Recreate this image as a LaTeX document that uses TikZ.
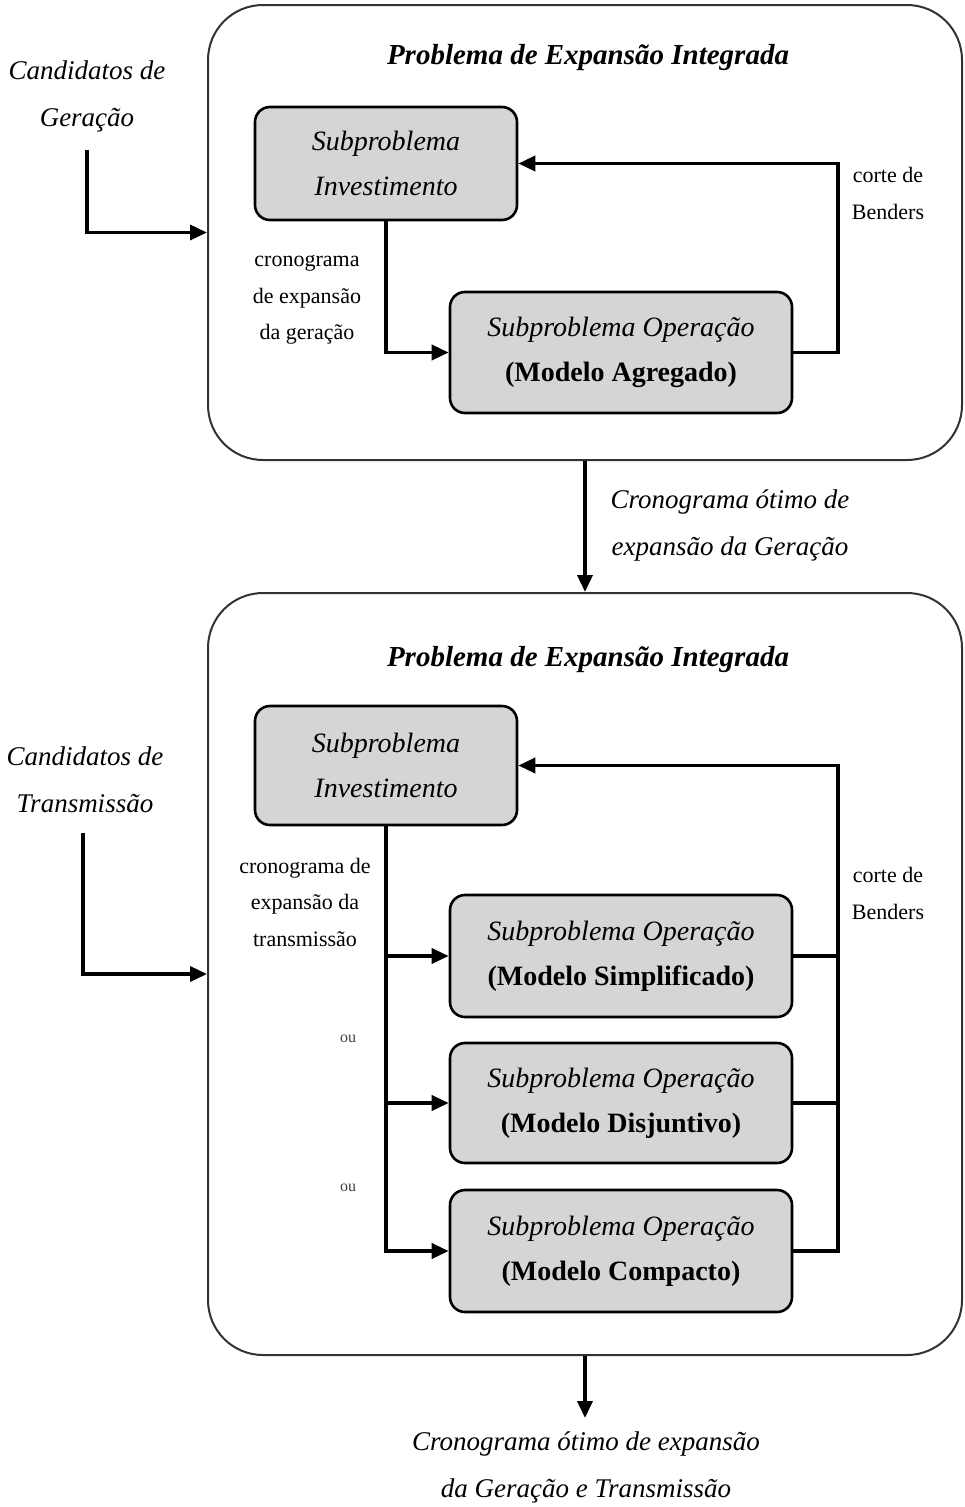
\documentclass[tikz,border=0pt]{standalone}
\usepackage{fontspec}
\setmainfont{Liberation Serif}
\usetikzlibrary{arrows.meta,calc}
\begin{document}
\begin{tikzpicture}[x=1pt,y=-1pt,
  frame/.style={draw=black!80,line width=2pt,rounded corners=55pt,inner sep=0pt},
  subbox/.style={draw=black,line width=2.6pt,rounded corners=15pt,fill=gray!33,inner sep=0pt,align=center,font=\fontsize{28}{45}\selectfont},
  flow/.style={line width=3.6pt,-{Triangle[length=17pt,width=15pt]}},
  plain/.style={line width=3.6pt},
  ttl/.style={font=\fontsize{29}{35}\selectfont\bfseries\itshape},
  side/.style={align=center,font=\fontsize{27}{47}\selectfont\itshape},
  small/.style={align=center,font=\fontsize{22}{36.5}\selectfont},
  tiny/.style={font=\fontsize{16}{18}\selectfont,text=black!75}
]
\useasboundingbox (0,0) rectangle (964,1507);
% frames
\node[frame,minimum width=754pt,minimum height=455pt] (frame1) at (585,232.5) {};
\node[frame,minimum width=754pt,minimum height=762pt] (frame2) at (585,974) {};
\node[ttl] (title1) at (588,58) {Problema de Expansão Integrada};
\node[ttl] (title2) at (588,660) {Problema de Expansão Integrada};
% boxes top
\node[subbox,minimum width=262pt,minimum height=113pt] (inv1) at (386,163.5) {\itshape Subproblema\\\itshape Investimento};
\node[subbox,minimum width=342pt,minimum height=121pt] (op1) at (621,352.5) {\itshape Subproblema Operação\\\bfseries (Modelo Agregado)};
% boxes bottom
\node[subbox,minimum width=262pt,minimum height=119pt] (inv2) at (386,765.5) {\itshape Subproblema\\\itshape Investimento};
\node[subbox,minimum width=342pt,minimum height=122pt] (opA) at (621,956) {\itshape Subproblema Operação\\\bfseries (Modelo Simplificado)};
\node[subbox,minimum width=342pt,minimum height=120pt] (opB) at (621,1103) {\itshape Subproblema Operação\\\bfseries (Modelo Disjuntivo)};
\node[subbox,minimum width=342pt,minimum height=122pt] (opC) at (621,1251) {\itshape Subproblema Operação\\\bfseries (Modelo Compacto)};
% labels
\node[side] (cand1) at (87,96.5) {Candidatos de\\Geração};
\node[side] (cand2) at (85,780) {Candidatos de\\Transmissão};
\node[small] (cron1) at (307,300) {cronograma\\de expansão\\da geração};
\node[small] (cron2) at (305,902) {cronograma de\\expansão da\\transmissão};
\node[small] (corte1) at (888,193.5) {corte de\\Benders};
\node[small] (corte2) at (888,893.5) {corte de\\Benders};
\node[side] (otimo1) at (730,525) {Cronograma ótimo de\\expansão da Geração};
\node[side] (otimo2) at (586,1467.5) {Cronograma ótimo de expansão\\da Geração e Transmissão};
\node[tiny] (ou1) at (348,1039) {ou};
\node[tiny] (ou2) at (348,1188) {ou};
% coordinates
\coordinate (c1) at (87,150);
\coordinate (c2) at (83,833);
\coordinate (r1) at (838,352.5);
\coordinate (r2) at (838,1251);
\coordinate (bA) at (386,956);
\coordinate (bB) at (386,1103);
\coordinate (rA) at (838,956);
\coordinate (rB) at (838,1103);
\coordinate (endp) at (585,1418);
% connectors top
\draw[flow] (c1) |- (frame1.west);
\draw[flow] (inv1.south) |- (op1.west);
\draw[flow] (op1.east) -- (r1) |- (inv1.east);
\draw[flow] (frame1.south) -- (frame2.north);
% connectors bottom
\draw[flow] (c2) |- (frame2.west);
\draw[flow] (inv2.south) |- (opC.west);
\draw[flow] (bA) -- (opA.west);
\draw[flow] (bB) -- (opB.west);
\draw[plain] (opA.east) -- (rA);
\draw[plain] (opB.east) -- (rB);
\draw[flow] (opC.east) -- (r2) |- (inv2.east);
\draw[flow] (frame2.south) -- (endp);
\end{tikzpicture}
\end{document}
